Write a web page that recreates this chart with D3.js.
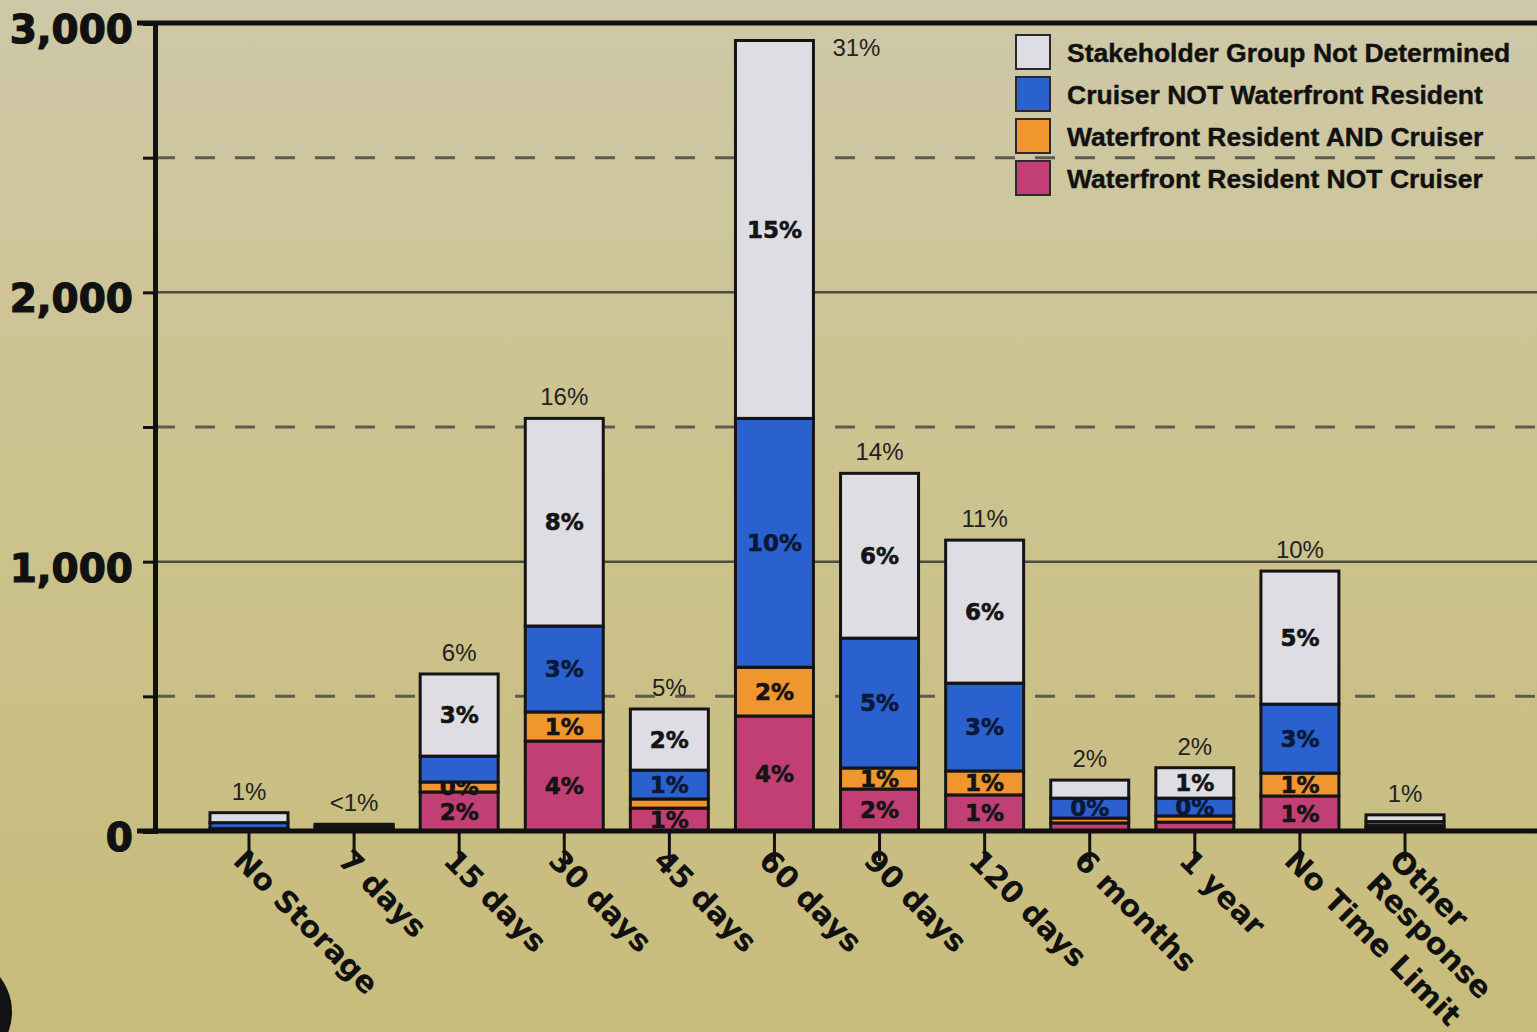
<!DOCTYPE html>
<html>
<head>
<meta charset="utf-8">
<script src="https://cdn.jsdelivr.net/npm/d3@7"></script>
<style>
  html, body { margin: 0; padding: 0; overflow: hidden; }
  body { width: 1537px; height: 1032px; }
</style>
</head>
<body>
<script>
// storage time categories along the x axis
var categories = ["No Storage", "7 days", "15 days", "30 days", "45 days", "60 days",
                  "90 days", "120 days", "6 months", "1 year", "No Time Limit", "Other Response"];

// responses per stakeholder group (stacked bottom to top)
var resNotCruiser = [5, 6, 145, 334, 85, 427, 156, 134, 30, 33, 130, 12];
var resAndCruiser = [4, 4, 37, 108, 34, 181, 78, 89, 18, 23, 85, 8];
var cruiserNotRes = [22, 8, 96, 319, 107, 924, 482, 326, 74, 66, 256, 15];
var notDetermined = [37, 7, 305, 771, 227, 1403, 612, 531, 67, 113, 494, 25];

// percent labels
var totalLabels = ["1%", "<1%", "6%", "16%", "5%", "31%", "14%", "11%", "2%", "2%", "10%", "1%"];
var resNotCruiserLabels = ["", "", "2%", "4%", "1%", "4%", "2%", "1%", "", "", "1%", ""];
var resAndCruiserLabels = ["", "", "0%", "1%", "", "2%", "1%", "1%", "", "", "1%", ""];
var cruiserNotResLabels = ["", "", "", "3%", "1%", "10%", "5%", "3%", "0%", "0%", "3%", ""];
var notDeterminedLabels = ["", "", "3%", "8%", "2%", "15%", "6%", "6%", "", "1%", "5%", ""];

var yTicks = [0, 500, 1000, 1500, 2000, 2500, 3000];

var series = [
  {key: "resNotCruiser", name: "Waterfront Resident NOT Cruiser", color: "#c23f76", values: resNotCruiser, labels: resNotCruiserLabels},
  {key: "resAndCruiser", name: "Waterfront Resident AND Cruiser", color: "#f0962e", values: resAndCruiser, labels: resAndCruiserLabels},
  {key: "cruiserNotRes", name: "Cruiser NOT Waterfront Resident", color: "#2b60cf", values: cruiserNotRes, labels: cruiserNotResLabels},
  {key: "notDetermined", name: "Stakeholder Group Not Determined", color: "#dedde4", values: notDetermined, labels: notDeterminedLabels}
];

// rows for d3.stack
var rows = categories.map(function(c, i) {
  var r = {category: c, index: i};
  series.forEach(function(s) { r[s.key] = s.values[i]; });
  return r;
});

var W = 1537, H = 1032;
var margin = {top: 23, right: 0, bottom: 201, left: 155},
    width = W - margin.left - margin.right,
    height = H - margin.top - margin.bottom;

var svg = d3.select("body").append("svg")
    .attr("width", W)
    .attr("height", H);

// paper background
var defs = svg.append("defs");
var bg = defs.append("linearGradient")
    .attr("id", "bg").attr("x1", 0).attr("y1", 0).attr("x2", 0).attr("y2", 1);
bg.append("stop").attr("offset", "0%").attr("stop-color", "#cfc8a8");
bg.append("stop").attr("offset", "45%").attr("stop-color", "#ccc38f");
bg.append("stop").attr("offset", "100%").attr("stop-color", "#c8bc7b");
svg.append("rect").attr("width", W).attr("height", H).attr("fill", "url(#bg)");

var g = svg.append("g")
    .attr("transform", "translate(" + margin.left + "," + margin.top + ")");

var x = d3.scaleBand()
    .domain(categories)
    .range([55, 1289])
    .paddingInner(0.258)
    .paddingOuter(0);

var y = d3.scaleLinear()
    .domain([0, 3000])
    .range([height, 0]);

// gridlines: solid at thousands, dashed at the half thousands
g.selectAll(".grid")
    .data(yTicks.filter(function(v) { return v > 0 && v < 3000; }))
    .enter().append("line")
    .attr("class", "grid")
    .attr("x1", 0).attr("x2", width)
    .attr("y1", function(d) { return y(d); })
    .attr("y2", function(d) { return y(d); })
    .attr("stroke", function(d) { return d % 1000 === 0 ? "#4c4b44" : "#5e5c52"; })
    .attr("stroke-width", function(d) { return d % 1000 === 0 ? 2.5 : 3; })
    .attr("stroke-dasharray", function(d) { return d % 1000 === 0 ? null : "20,20"; });

// top frame line at 3,000
g.append("line")
    .attr("x1", -18).attr("x2", width)
    .attr("y1", y(3000)).attr("y2", y(3000))
    .attr("stroke", "#111").attr("stroke-width", 5);

// stacked bars
var stack = d3.stack().keys(series.map(function(s) { return s.key; }));
var stacked = stack(rows);

var layers = g.selectAll(".layer")
    .data(stacked)
    .enter().append("g")
    .attr("class", "layer")
    .attr("fill", function(d, i) { return series[i].color; });

layers.selectAll("rect")
    .data(function(d) { return d; })
    .enter().append("rect")
    .attr("x", function(d) { return x(d.data.category); })
    .attr("width", x.bandwidth())
    .attr("y", function(d) { return y(d[1]); })
    .attr("height", function(d) { return y(d[0]) - y(d[1]); })
    .attr("stroke", "#141414")
    .attr("stroke-width", 3);

// labels inside the segments
layers.each(function(layer, li) {
  d3.select(this).selectAll("text")
    .data(layer.filter(function(d) { return series[li].labels[d.data.index] !== ""; }))
    .enter().append("text")
    .attr("x", function(d) { return x(d.data.category) + x.bandwidth() / 2; })
    .attr("y", function(d) { return (y(d[0]) + y(d[1])) / 2; })
    .attr("dy", "0.36em")
    .attr("text-anchor", "middle")
    .attr("font-family", "DejaVu Sans, sans-serif")
    .attr("font-weight", "bold")
    .attr("font-size", 23)
    .attr("fill", li === 2 ? "#0c1838" : "#141414")
    .attr("stroke", li === 2 ? "#0c1838" : "#141414")
    .attr("stroke-width", 0.6)
    .text(function(d) { return series[li].labels[d.data.index]; });
});

// total percent above each bar (beside it when there is no room above)
var totals = rows.map(function(r) {
  return d3.sum(series, function(s) { return r[s.key]; });
});
g.selectAll(".total")
    .data(rows)
    .enter().append("text")
    .attr("class", "total")
    .attr("x", function(d, i) {
      var cx = x(d.category) + x.bandwidth() / 2;
      return y(totals[i]) < 40 ? cx + x.bandwidth() / 2 + 43 : cx;
    })
    .attr("y", function(d, i) {
      return y(totals[i]) < 40 ? y(totals[i]) + 15 : y(totals[i]) - 13;
    })
    .attr("text-anchor", "middle")
    .attr("font-family", "Liberation Sans, Arial, sans-serif")
    .attr("font-size", 24)
    .attr("fill", "#222")
    .text(function(d, i) { return totalLabels[i]; });

// y axis
var yAxis = g.append("g")
    .call(d3.axisLeft(y)
      .tickValues(yTicks)
      .tickSize(12)
      .tickPadding(10)
      .tickFormat(function(d) { return d % 1000 === 0 ? d3.format(",")(d) : ""; }));
yAxis.select(".domain").attr("stroke", "#111").attr("stroke-width", 5);
yAxis.selectAll(".tick line").attr("stroke", "#111").attr("stroke-width", 3);
yAxis.selectAll(".tick text")
    .attr("font-family", "DejaVu Sans, sans-serif")
    .attr("font-weight", "bold")
    .attr("font-size", 39)
    .attr("fill", "#111")
    .attr("stroke", "#111")
    .attr("stroke-width", 1.2)
    .attr("x", -22)
    .attr("dy", "0.5em");

// x axis baseline
g.append("line")
    .attr("x1", -18).attr("x2", width)
    .attr("y1", height).attr("y2", height)
    .attr("stroke", "#111").attr("stroke-width", 5);

// category ticks and slanted labels
var xt = g.selectAll(".xtick")
    .data(categories)
    .enter().append("g")
    .attr("class", "xtick")
    .attr("transform", function(d) {
      return "translate(" + (x(d) + x.bandwidth() / 2) + "," + height + ")";
    });

xt.append("line")
    .attr("y1", 2).attr("y2", 30)
    .attr("stroke", "#111").attr("stroke-width", 3);

var xl = xt.append("text")
    .attr("transform", "translate(-2,16) rotate(45)")
    .attr("font-family", "DejaVu Sans, sans-serif")
    .attr("font-weight", "bold")
    .attr("font-size", 30)
    .attr("fill", "#111");

xl.each(function(d) {
  var words = d === "Other Response" ? ["Other", "Response"] : [d];
  var t = d3.select(this);
  words.forEach(function(w, i) {
    t.append("tspan")
      .attr("x", 0)
      .attr("dy", i === 0 ? "0.72em" : "1.1em")
      .text(w);
  });
});

// legend
var legendRows = series.slice().reverse();
var legend = svg.append("g")
    .attr("transform", "translate(1016,35)");

var li = legend.selectAll(".item")
    .data(legendRows)
    .enter().append("g")
    .attr("class", "item")
    .attr("transform", function(d, i) { return "translate(0," + (i * 42) + ")"; });

li.append("rect")
    .attr("width", 34).attr("height", 34)
    .attr("fill", function(d) { return d.color; })
    .attr("stroke", "#2a2a2a")
    .attr("stroke-width", 2);

li.append("text")
    .attr("x", 51)
    .attr("y", 17)
    .attr("dy", "0.36em")
    .attr("font-family", "Liberation Sans, Arial, sans-serif")
    .attr("font-weight", "bold")
    .attr("font-size", 26.5)
    .attr("fill", "#111")
    .attr("stroke", "#111")
    .attr("stroke-width", 0.4)
    .text(function(d) { return d.name; });

// seal at the lower left corner
svg.append("circle")
    .attr("cx", -45).attr("cy", 1012)
    .attr("r", 57)
    .attr("fill", "#121212");
</script>
</body>
</html>
